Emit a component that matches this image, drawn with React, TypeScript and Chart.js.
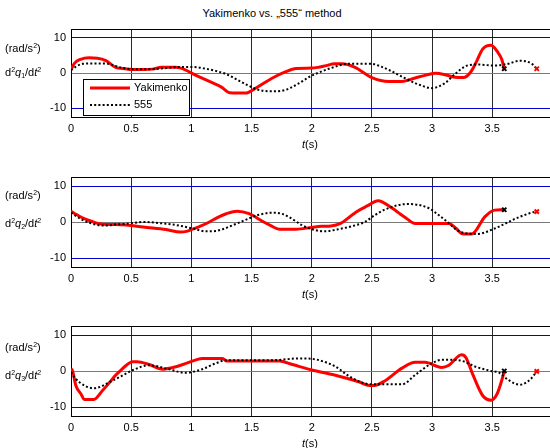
import React, { useEffect, useRef } from 'react';
import { Chart, registerables } from 'chart.js';

Chart.register(...registerables);

const FONT = '"Liberation Sans", Arial, Helvetica, sans-serif';
const TITLE = 'Yakimenko vs. „555“ method';
const SERIES_NAMES = ['Yakimenko', '555'];
const X_TICKS = [0, 0.5, 1, 1.5, 2, 2.5, 3, 3.5];
const Y_TICKS = [-10, 0, 10];
const X_MIN = 0;
const X_MAX = 3.98;
const Y_MIN = -12.5;
const Y_MAX = 12.5;

// Panel 1: d2q1/dt2
const q1YakT = [0, 0.03, 0.08, 0.15, 0.22, 0.29, 0.37, 0.45, 0.51, 0.6, 0.68, 0.75, 0.87, 0.95, 1.01, 1.08, 1.15, 1.25, 1.32, 1.45, 1.54, 1.67, 1.78, 1.87, 2.0, 2.05, 2.12, 2.19, 2.25, 2.36, 2.5, 2.64, 2.75, 2.86, 2.95, 3.03, 3.1, 3.19, 3.26, 3.32, 3.37, 3.42, 3.49, 3.54, 3.58, 3.6];
const q1YakV = [1.0, 2.8, 3.9, 4.3, 4.2, 3.5, 1.6, 1.2, 1.0, 1.0, 1.1, 1.6, 1.6, 0.9, -0.2, -1.3, -2.4, -4.0, -5.6, -5.7, -4.2, -1.5, 0.3, 1.3, 1.4, 1.6, 2.1, 2.6, 2.6, 1.6, -1.3, -2.4, -2.4, -1.4, -0.6, -0.1, -0.4, -1.2, -1.3, 0.2, 3.3, 6.8, 7.9, 6.2, 3.8, 1.2];
const q1ST = [0, 0.05, 0.1, 0.18, 0.29, 0.35, 0.41, 0.51, 0.65, 0.79, 0.9, 1.01, 1.12, 1.2, 1.29, 1.36, 1.43, 1.55, 1.67, 1.76, 1.9, 1.99, 2.05, 2.16, 2.3, 2.5, 2.57, 2.64, 2.77, 2.89, 3.0, 3.11, 3.19, 3.3, 3.38, 3.52, 3.63, 3.73, 3.83, 3.87];
const q1SV = [0.8, 2.0, 2.6, 2.7, 2.7, 2.2, 1.6, 1.1, 1.1, 1.4, 1.7, 1.7, 1.2, 0.6, -0.3, -1.5, -2.8, -4.7, -5.2, -5.0, -2.8, -0.9, 0.0, 1.4, 2.6, 2.6, 1.9, 0.9, -1.4, -3.3, -4.3, -2.8, -0.3, 2.2, 2.4, 2.1, 2.6, 3.5, 2.6, 1.2];

// Panel 2: d2q2/dt2
const q2YakT = [0, 0.05, 0.1, 0.17, 0.235, 0.3, 0.37, 0.46, 0.6, 0.79, 0.91, 0.96, 1.01, 1.08, 1.15, 1.22, 1.29, 1.38, 1.48, 1.59, 1.66, 1.73, 1.87, 2.0, 2.08, 2.16, 2.24, 2.3, 2.37, 2.47, 2.55, 2.67, 2.72, 2.78, 2.86, 3.0, 3.14, 3.2, 3.24, 3.27, 3.33, 3.44, 3.52, 3.57, 3.6];
const q2YakV = [3.0, 2.0, 1.1, 0.2, -0.5, -0.7, -0.7, -0.8, -1.4, -2.1, -2.8, -2.6, -2.0, -1.1, 0.0, 1.3, 2.3, 3.0, 2.3, 0.2, -1.0, -2.0, -2.0, -1.5, -1.2, -1.1, -0.4, 1.0, 2.8, 4.6, 5.9, 3.8, 2.6, 1.2, -0.4, -0.4, -0.4, -1.8, -3.1, -3.3, -3.3, 1.5, 3.3, 3.4, 3.4];
const q2ST = [0, 0.05, 0.1, 0.17, 0.235, 0.3, 0.37, 0.46, 0.6, 0.79, 0.9, 1.01, 1.12, 1.2, 1.26, 1.35, 1.43, 1.56, 1.69, 1.75, 1.81, 1.92, 2.0, 2.11, 2.22, 2.33, 2.44, 2.52, 2.61, 2.8, 2.97, 3.04, 3.11, 3.24, 3.38, 3.52, 3.6, 3.69, 3.85, 3.87];
const q2SV = [2.6, 1.5, 0.5, -0.4, -0.9, -1.0, -0.7, -0.5, 0.0, -0.5, -1.0, -1.8, -2.6, -2.5, -2.0, -0.8, 0.3, 2.0, 2.6, 2.3, 1.4, -0.9, -2.0, -2.6, -2.0, -1.2, 0.0, 1.8, 3.5, 5.0, 3.9, 2.3, 0.5, -2.8, -3.3, -1.8, -0.6, 0.9, 2.8, 2.9];

// Panel 3: d2q3/dt2
const q3YakT = [0, 0.01, 0.04, 0.083, 0.11, 0.19, 0.26, 0.32, 0.37, 0.42, 0.46, 0.51, 0.55, 0.65, 0.76, 0.84, 0.93, 1.04, 1.09, 1.26, 1.29, 1.5, 1.73, 1.84, 2.0, 2.19, 2.39, 2.48, 2.52, 2.61, 2.75, 2.86, 2.94, 3.08, 3.14, 3.245, 3.28, 3.34, 3.42, 3.49, 3.54, 3.58, 3.6];
const q3YakV = [0.5, 0.3, -4.0, -6.4, -7.9, -7.9, -5.5, -3.2, -1.2, 0.4, 1.6, 2.6, 2.6, 1.8, 0.5, 0.9, 1.8, 3.1, 3.5, 3.5, 2.8, 2.8, 2.8, 1.8, 0.3, -1.1, -3.0, -4.0, -4.0, -2.7, 0.8, 2.4, 2.4, 1.0, 1.6, 4.5, 3.8, -1.1, -6.8, -8.1, -6.4, -2.5, 0.0];
const q3ST = [0, 0.03, 0.07, 0.12, 0.19, 0.25, 0.32, 0.42, 0.51, 0.65, 0.79, 0.95, 1.09, 1.2, 1.29, 1.51, 1.67, 1.9, 2.0, 2.1, 2.2, 2.3, 2.4, 2.5, 2.75, 2.86, 3.0, 3.08, 3.16, 3.25, 3.36, 3.49, 3.56, 3.63, 3.73, 3.82, 3.87];
const q3SV = [-0.3, -1.8, -3.1, -4.2, -4.8, -4.3, -3.1, -1.4, 0.2, 1.6, 0.7, -0.5, 0.5, 2.1, 3.0, 3.0, 3.0, 3.5, 3.4, 2.6, 1.2, -1.2, -3.0, -3.7, -3.7, -1.1, 2.2, 3.1, 3.1, 2.8, 1.2, 0.0, -0.5, -2.4, -3.8, -2.2, -0.1];

type PanelProps = {
  top: number;
  bottom: number;
  yakT: number[];
  yakV: number[];
  sT: number[];
  sV: number[];
  legend: boolean;
};

const PAD_TOP = 10;
const X_AXIS_H = 22;
const LEFT = 71;

function Panel({ top, bottom, yakT, yakV, sT, sV, legend }: PanelProps) {
  const ref = useRef<HTMLCanvasElement>(null);
  const h = bottom - top + PAD_TOP + X_AXIS_H;

  useEffect(() => {
    if (!ref.current) return;
    const framePlugin = {
      id: 'frame',
      beforeDatasetsDraw(chart: any) {
        const { ctx, chartArea: a } = chart;
        ctx.save();
        ctx.strokeStyle = '#000';
        ctx.lineWidth = 1;
        ctx.beginPath();
        ctx.moveTo(a.left + 0.5, a.bottom + 0.5);
        ctx.lineTo(a.left + 0.5, a.top + 0.5);
        ctx.lineTo(a.right, a.top + 0.5);
        ctx.moveTo(a.left, a.bottom + 0.5);
        ctx.lineTo(a.right, a.bottom + 0.5);
        ctx.stroke();
        ctx.restore();
      },
    };
    const legendPlugin = {
      id: 'boxLegend',
      afterDraw(chart: any) {
        if (!legend) return;
        const { ctx, chartArea: a } = chart;
        const bx = a.left + 12;
        const by = a.top + 50;
        ctx.save();
        ctx.fillStyle = '#fff';
        ctx.fillRect(bx, by, 106, 36);
        ctx.strokeStyle = '#000';
        ctx.lineWidth = 1;
        ctx.strokeRect(bx + 0.5, by + 0.5, 106, 36);
        ctx.beginPath();
        ctx.strokeStyle = '#ff0000';
        ctx.lineWidth = 3;
        ctx.moveTo(a.left + 19, a.top + 59);
        ctx.lineTo(a.left + 59, a.top + 59);
        ctx.stroke();
        ctx.beginPath();
        ctx.strokeStyle = '#000';
        ctx.lineWidth = 2;
        ctx.setLineDash([2, 2.2]);
        ctx.moveTo(a.left + 19, a.top + 76);
        ctx.lineTo(a.left + 59, a.top + 76);
        ctx.stroke();
        ctx.setLineDash([]);
        ctx.fillStyle = '#000';
        ctx.font = `11px ${FONT}`;
        ctx.textBaseline = 'middle';
        ctx.textAlign = 'left';
        ctx.fillText(SERIES_NAMES[0], a.left + 63, a.top + 59);
        ctx.fillText(SERIES_NAMES[1], a.left + 63, a.top + 76);
        ctx.restore();
      },
    };

    const chart = new Chart(ref.current, {
      type: 'line',
      data: {
        datasets: [
          {
            type: 'scatter',
            label: 'end-yak',
            data: [{ x: yakT[yakT.length - 1], y: yakV[yakV.length - 1] }],
            pointStyle: 'crossRot',
            pointRadius: 3,
            pointBorderWidth: 2,
            borderColor: '#000',
            backgroundColor: '#000',
            order: 0,
          },
          {
            type: 'scatter',
            label: 'end-555',
            data: [{ x: sT[sT.length - 1], y: sV[sV.length - 1] }],
            pointStyle: 'crossRot',
            pointRadius: 3,
            pointBorderWidth: 2,
            borderColor: '#ff0000',
            backgroundColor: '#ff0000',
            order: 0,
          },
          {
            label: SERIES_NAMES[1],
            data: sT.map((t, i) => ({ x: t, y: sV[i] })),
            borderColor: '#000',
            borderWidth: 2,
            borderDash: [2, 2.2],
            pointRadius: 0,
            cubicInterpolationMode: 'monotone',
            fill: false,
            order: 1,
          },
          {
            label: SERIES_NAMES[0],
            data: yakT.map((t, i) => ({ x: t, y: yakV[i] })),
            borderColor: '#ff0000',
            borderWidth: 3,
            pointRadius: 0,
            cubicInterpolationMode: 'monotone',
            fill: false,
            order: 2,
          },
        ] as any,
      },
      plugins: [framePlugin, legendPlugin],
      options: {
        animation: false,
        responsive: false,
        devicePixelRatio: 1,
        layout: { autoPadding: false, padding: { top: PAD_TOP, left: 0, right: 0, bottom: 0 } },
        plugins: {
          legend: { display: false },
          tooltip: { enabled: false },
          title: { display: false },
        },
        scales: {
          x: {
            type: 'linear',
            min: X_MIN,
            max: X_MAX,
            afterBuildTicks: (s: any) => {
              s.ticks = X_TICKS.map((v) => ({ value: v }));
            },
            afterFit: (s: any) => {
              s.height = X_AXIS_H;
              s.paddingLeft = 0;
              s.paddingRight = 0;
            },
            grid: { color: '#2a2a2a', lineWidth: 1, drawTicks: false },
            border: { display: false },
            ticks: {
              padding: 5,
              color: '#000',
              font: { family: FONT, size: 11 },
              maxRotation: 0,
              callback: (v: any) => String(v),
            },
          },
          y: {
            type: 'linear',
            min: Y_MIN,
            max: Y_MAX,
            afterBuildTicks: (s: any) => {
              s.ticks = Y_TICKS.map((v) => ({ value: v }));
            },
            afterFit: (s: any) => {
              s.width = LEFT;
              s.paddingTop = 0;
              s.paddingBottom = 0;
            },
            grid: {
              color: (c: any) => (c.tick && c.tick.value === 0 ? '#7a7a7a' : '#0000d0'),
              lineWidth: 1,
              drawTicks: false,
            },
            border: { display: false },
            ticks: {
              padding: 5,
              color: '#000',
              font: { family: FONT, size: 11 },
              callback: (v: any) => String(v),
            },
          },
        },
      } as any,
    });
    return () => chart.destroy();
  }, []);

  return (
    <canvas
      ref={ref}
      width={550}
      height={h}
      style={{ position: 'absolute', left: 0, top: top - PAD_TOP, width: 550, height: h }}
    />
  );
}

const labelStyle: React.CSSProperties = {
  position: 'absolute',
  fontFamily: FONT,
  fontSize: 11,
  lineHeight: '14px',
  color: '#000',
  whiteSpace: 'nowrap',
};
const supStyle: React.CSSProperties = { fontSize: 7, position: 'relative', top: -4 };
const subStyle: React.CSSProperties = { fontSize: 7, position: 'relative', top: 2 };

function YLabel({ n, unitY, nameY }: { n: number; unitY: number; nameY: number }) {
  return (
    <>
      <div style={{ ...labelStyle, left: 5, top: unitY - 7 }}>
        (rad/s<span style={supStyle}>2</span>)
      </div>
      <div style={{ ...labelStyle, left: 5, top: nameY - 7 }}>
        d<span style={supStyle}>2</span>
        <i>q</i>
        <span style={subStyle}>{n}</span>/d<i>t</i>
        <span style={supStyle}>2</span>
      </div>
    </>
  );
}

function XLabel({ y }: { y: number }) {
  return (
    <div style={{ ...labelStyle, left: 310, top: y - 7, transform: 'translateX(-50%)' }}>
      <i>t</i>(s)
    </div>
  );
}

export default function App() {
  return (
    <div
      style={{
        position: 'absolute',
        left: 0,
        top: 0,
        width: 550,
        height: 448,
        background: '#fff',
        overflow: 'hidden',
      }}
    >
      <div style={{ ...labelStyle, left: 272, top: 6, transform: 'translateX(-50%)' }}>{TITLE}</div>
      <Panel top={29} bottom={117} yakT={q1YakT} yakV={q1YakV} sT={q1ST} sV={q1SV} legend={true} />
      <Panel top={177} bottom={267} yakT={q2YakT} yakV={q2YakV} sT={q2ST} sV={q2SV} legend={false} />
      <Panel top={326} bottom={416} yakT={q3YakT} yakV={q3YakV} sT={q3ST} sV={q3SV} legend={false} />
      <YLabel n={1} unitY={48} nameY={72} />
      <YLabel n={2} unitY={195} nameY={223} />
      <YLabel n={3} unitY={347} nameY={375} />
      <XLabel y={144} />
      <XLabel y={294} />
      <XLabel y={443} />
    </div>
  );
}
